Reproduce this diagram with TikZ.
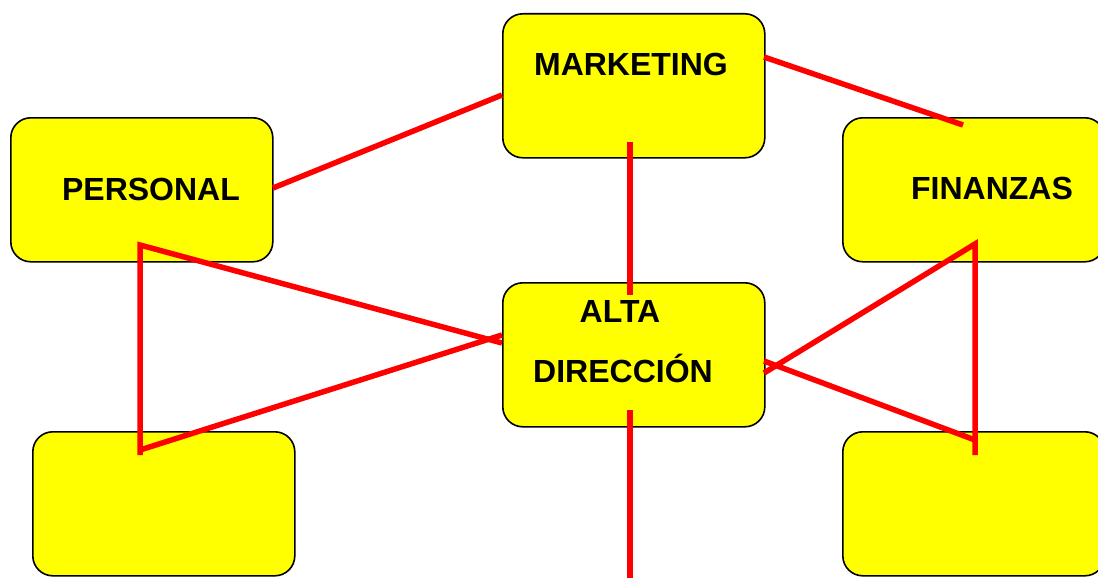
\documentclass[tikz,border=0pt]{standalone}
\usepackage{fontspec}
\setmainfont{Liberation Sans}
\definecolor{boxyellow}{RGB}{255,255,0}
\definecolor{linkred}{RGB}{255,0,0}
\begin{document}
\begin{tikzpicture}[x=1pt,y=-1pt,
  box/.style={draw=black,line width=1.6pt,fill=boxyellow,rounded corners=20pt,
    minimum width=262pt,minimum height=144pt,inner sep=0pt,anchor=north west},
  lbl/.style={font=\bfseries\fontsize{32}{38}\selectfont,anchor=base,inner sep=0pt},
  link/.style={draw=linkred,line width=5.5pt,line join=miter}]
\useasboundingbox (0,0) rectangle (1098,578);
% boxes
\node[box] (mkt) at (502,13) {};
\node[box] (per) at (10,117) {};
\node[box] (fin) at (842,117) {};
\node[box] (alta) at (502,282) {};
\node[box] (bl) at (32,431) {};
\node[box] (br) at (842,431) {};
% labels
\node[lbl] (tmkt) at (631,76) {MARKETING};
\node[lbl] (tper) at (151,200) {PERSONAL};
\node[lbl] (tfin) at (992,199) {FINANZAS};
\node[lbl] (talta) at (620,322) {ALTA};
\node[lbl] (tdir) at (623,382) {DIRECCIÓN};
% connector end points
\coordinate (perR) at (273,188);
\coordinate (mktL) at (502,95);
\coordinate (mktR) at (764,57);
\coordinate (finIn) at (963,125);
\coordinate (mktB) at (630,142);
\coordinate (altaT) at (630,295);
\coordinate (altaB) at (630,410);
\coordinate (down) at (630,580);
\coordinate (perB) at (140,245);
\coordinate (blT) at (140,455);
\coordinate (blD) at (140,450);
\coordinate (altaL1) at (502,343);
\coordinate (altaL2) at (502,335);
\coordinate (finB) at (975,244);
\coordinate (brT) at (975,455);
\coordinate (brD) at (975,440);
\coordinate (altaR1) at (764,373);
\coordinate (altaR2) at (764,361);
% connectors
\draw[link] (perR) -- (mktL);
\draw[link] (mktR) -- (finIn);
\draw[link] (mktB) -- (altaT);
\draw[link] (altaB) -- (down);
\draw[link] (blT) -- (perB) -- (altaL1);
\draw[link] (blD) -- (altaL2);
\draw[link] (altaR1) -- (finB) -- (brT);
\draw[link] (altaR2) -- (brD);
\end{tikzpicture}
\end{document}
